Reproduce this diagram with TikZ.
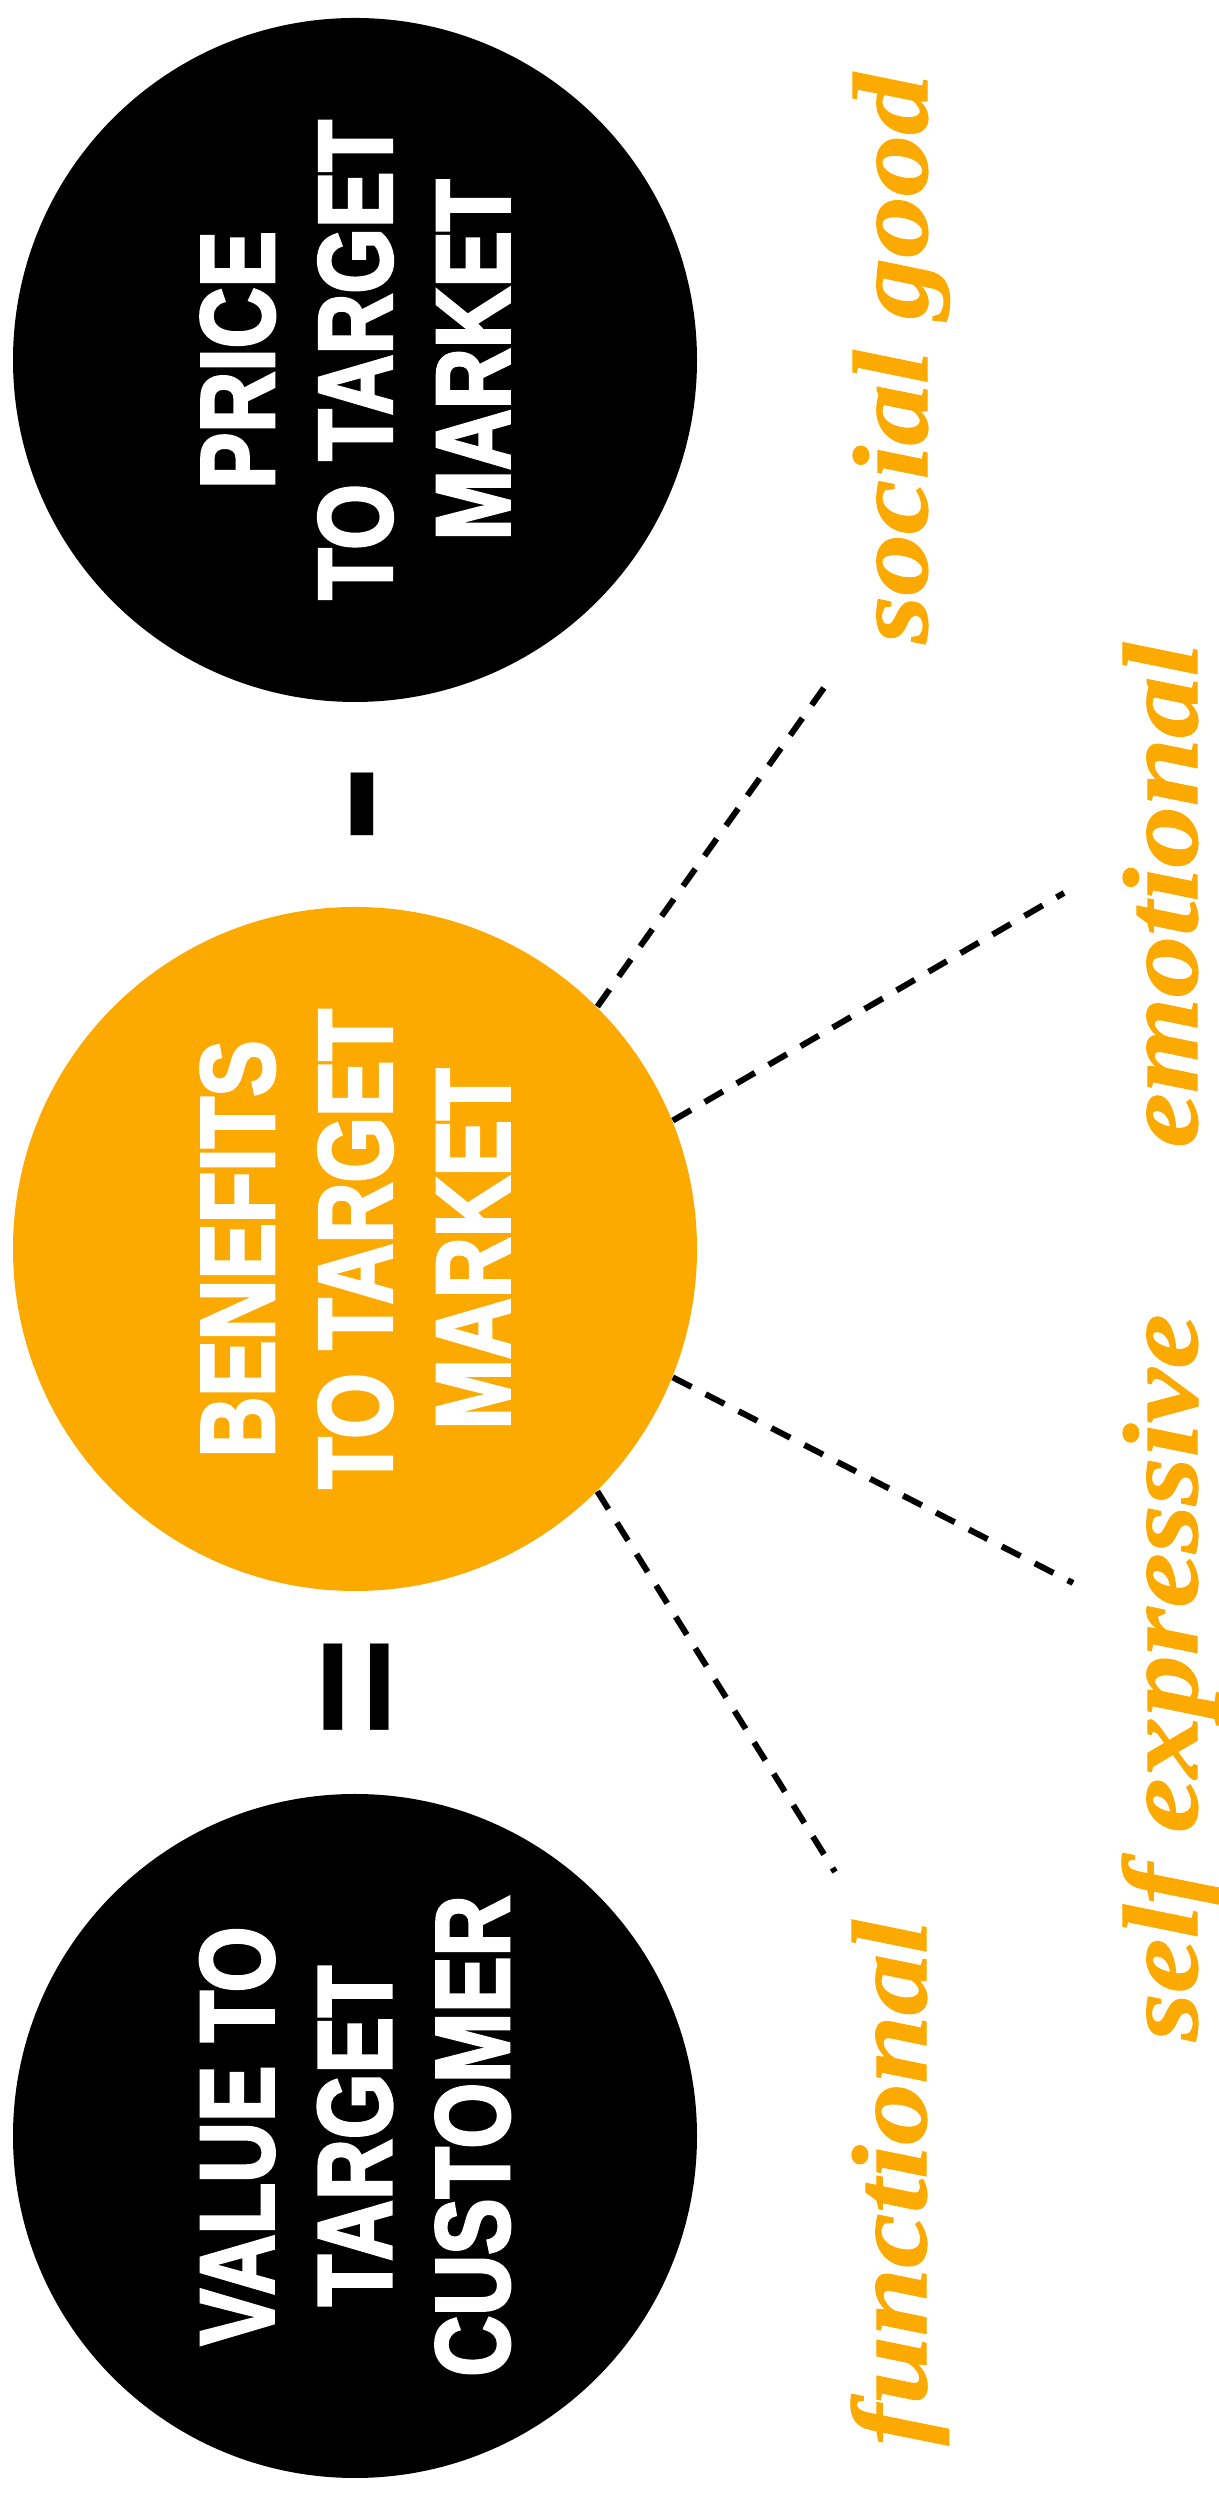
\documentclass[tikz,border=0pt]{standalone}
\usepackage{fontspec}
\newfontfamily\discfont[FakeStretch=0.80,FakeBold=2.5]{Liberation Sans}
\newfontfamily\signfont{Liberation Sans}
\newfontfamily\tagfont[FakeStretch=1.15,FakeBold=1]{Liberation Serif}
\usepackage{tikz}
\definecolor{benefitorange}{RGB}{253,170,0}

\begin{document}
\begin{tikzpicture}[
	disc/.style={circle, minimum size=6.84cm, inner sep=0pt},
	disctext/.style={rotate=90, align=center, text=white, inner sep=0pt,
		font=\discfont\bfseries\fontsize{30}{33.5}\selectfont},
	signtext/.style={rotate=90, inner sep=0pt, font=\signfont\bfseries},
	tagtext/.style={rotate=90, anchor=base, inner sep=0pt, text=benefitorange,
		font=\tagfont\bfseries\itshape\fontsize{30.4}{36}\selectfont},
	spoke/.style={line width=0.6mm, dash pattern=on 2.1mm off 1.6mm}
]
	\useasboundingbox (0,0) rectangle (12.19,24.94);

	% the three discs, read from the bottom up
	\node[disc, fill=black] (price) at (3.55,21.34) {};
	\node[disc, fill=benefitorange] (benefits) at (3.55,12.45) {};
	\node[disc, fill=black] (value) at (3.55,3.58) {};

	\node[disctext] (pricetext) at (price) {PRICE\\TO TARGET\\MARKET};
	\node[disctext] (benefitstext) at (benefits) {BENEFITS\\TO TARGET\\MARKET};
	\node[disctext] (valuetext) at (value) {VALUE TO\\TARGET\\CUSTOMER};

	% value = benefits - price
	\node[signtext, font=\signfont\bfseries\fontsize{36}{36}\selectfont] (minus) at (3.87,16.90) {\scalebox{1}[1.8]{–}};
	\node[signtext, font=\signfont\bfseries\fontsize{49}{49}\selectfont] (equals) at (3.685,8.07) {=};

	% kinds of benefit
	\node[tagtext] (social) at (9.27,21.355) {social good};
	\node[tagtext] (emotional) at (11.97,15.99) {emotional};
	\node[tagtext] (selfexp) at (11.97,8.165) {self expressive};
	\node[tagtext] (functional) at (9.26,3.115) {functional};

	\coordinate (socialend) at (8.26,18.09);
	\coordinate (emotionalend) at (10.64,16.01);
	\coordinate (selfexpend) at (10.73,9.11);
	\coordinate (functionalend) at (8.35,6.22);

	\draw[spoke] (benefits.45) -- (socialend);
	\draw[spoke] (benefits.22) -- (emotionalend);
	\draw[spoke] (benefits.-22) -- (selfexpend);
	\draw[spoke] (benefits.-45) -- (functionalend);
\end{tikzpicture}
\end{document}
